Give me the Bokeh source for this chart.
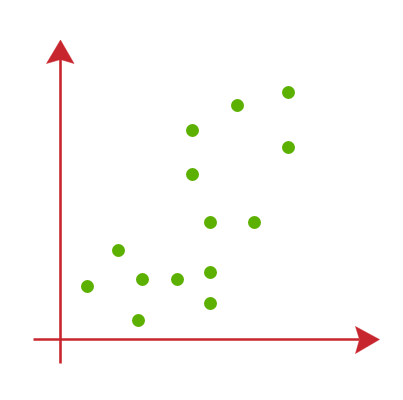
from bokeh.plotting import figure
from bokeh.models import Range1d
from bokeh.embed import file_html
from bokeh.resources import INLINE

# data (arbitrary units, origin at the axis crossing)
x_vals = [2.7, 5.8, 7.8, 8.2, 11.7, 15.0, 15.0, 15.0, 13.2, 13.2, 17.7, 19.4, 22.8, 22.8]
y_vals = [5.3, 8.9, 1.9, 6.0, 6.0, 3.6, 6.7, 11.7, 16.5, 20.9, 23.4, 11.7, 24.7, 19.2]

RED = "#c8262e"
GREEN = "#5cb000"

p = figure(width=387, height=384, output_backend="svg", toolbar_location=None,
           x_range=Range1d(-6.0, 32.7), y_range=Range1d(-4.5, 33.9),
           x_axis_type=None, y_axis_type=None, min_border=0)
p.grid.visible = False
p.outline_line_color = None
p.background_fill_color = "white"

# axes lines
p.segment(x0=[0, -2.7], y0=[-2.4, 0], x1=[0, 29.9], y1=[28.1, 0],
          line_color=RED, line_width=2.6)
# arrowheads
p.patches(xs=[[0, -1.4, 0, 1.35], [31.9, 29.5, 29.9, 29.5]],
          ys=[[29.95, 27.6, 28.0, 27.6], [0, 1.3, 0, -1.4]],
          fill_color=RED, line_color=RED, line_width=0.5)

p.scatter(x_vals, y_vals, size=13, fill_color=GREEN, line_color=GREEN, line_width=0)

open("out.html", "w").write(file_html(p, INLINE))
